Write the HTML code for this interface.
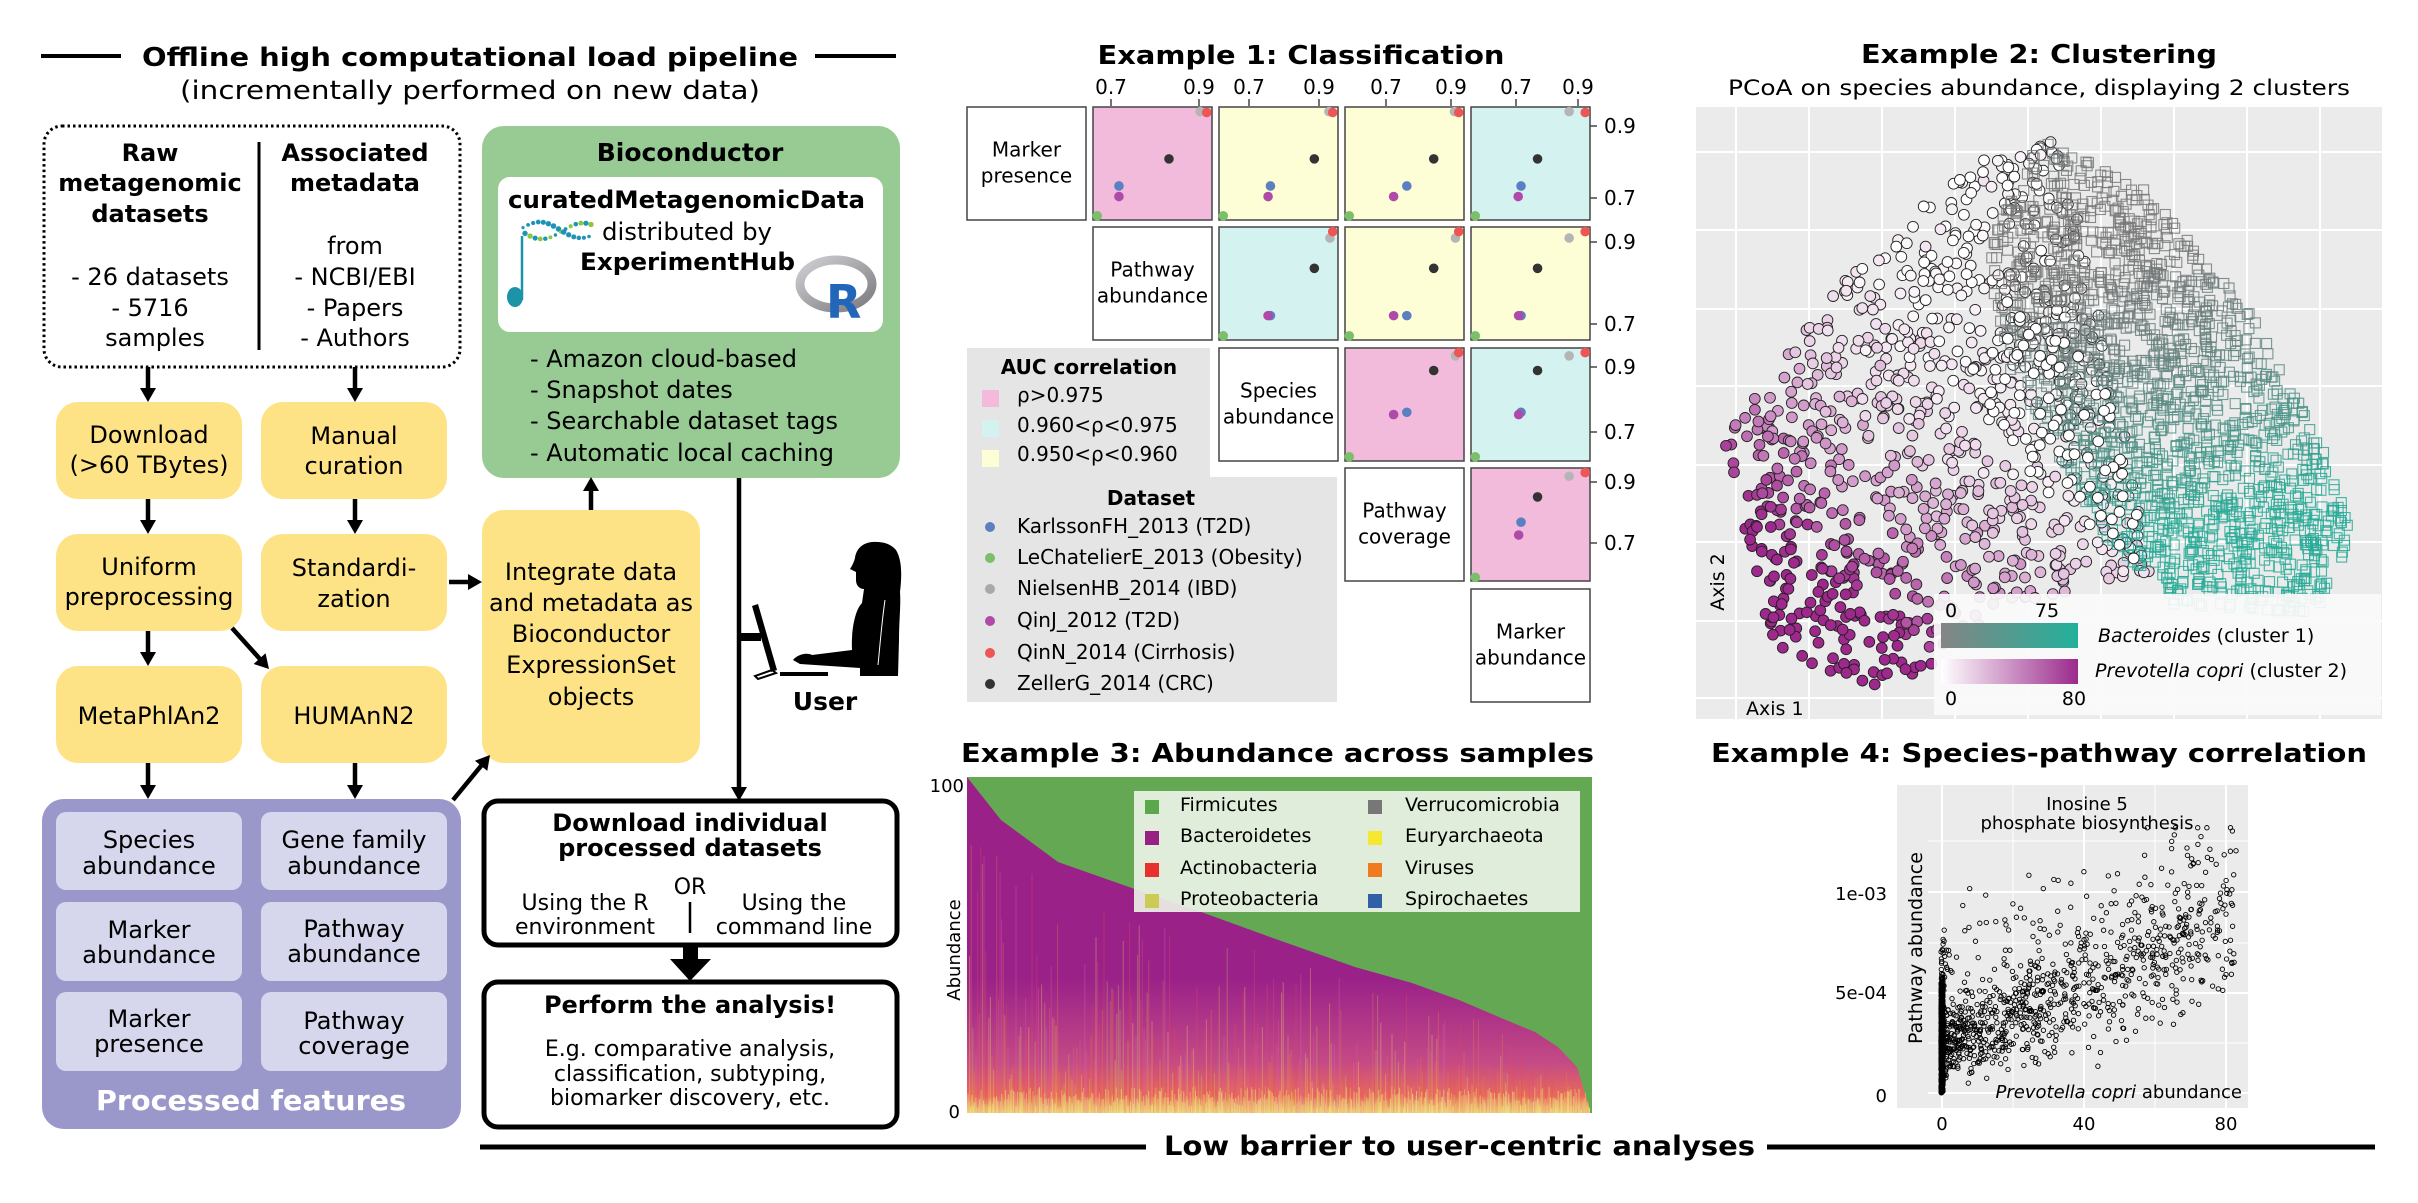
<!DOCTYPE html>
<html><head><meta charset="utf-8"><style>
html,body{margin:0;padding:0;background:#fff;width:2418px;height:1203px;overflow:hidden}
svg{display:block}
text{font-family:"DejaVu Sans","Liberation Sans",sans-serif}
</style></head><body>
<svg id="s" xmlns="http://www.w3.org/2000/svg" width="2418" height="1203" viewBox="0 0 2418 1203">
<defs>
<linearGradient id="gb" x1="0" x2="1"><stop offset="0" stop-color="#858585"/><stop offset="1" stop-color="#22b09a"/></linearGradient>
<linearGradient id="gp" x1="0" x2="1"><stop offset="0" stop-color="#ffffff"/><stop offset="1" stop-color="#9b2a8c"/></linearGradient>
<linearGradient id="gpur" x1="0" y1="0" x2="0" y2="1"><stop offset="0" stop-color="#9a2188"/><stop offset="0.6" stop-color="#9a2188"/><stop offset="0.85" stop-color="#c44a86"/><stop offset="0.95" stop-color="#e86a5a"/><stop offset="1" stop-color="#eedc80"/></linearGradient>
<linearGradient id="ring" x1="0" y1="0" x2="1" y2="1"><stop offset="0" stop-color="#d0d0d4"/><stop offset="1" stop-color="#7a7a80"/></linearGradient>
</defs>
<rect width="2418" height="1203" fill="#fff"/>

<line x1="41" y1="56" x2="121" y2="56" stroke="#000" stroke-width="4"/>
<line x1="815" y1="56" x2="896" y2="56" stroke="#000" stroke-width="4"/>
<text x="470" y="66" font-size="26" font-weight="bold" text-anchor="middle" textLength="656" lengthAdjust="spacingAndGlyphs">Offline high computational load pipeline</text>
<text x="470" y="99" font-size="26" text-anchor="middle" textLength="580" lengthAdjust="spacingAndGlyphs">(incrementally performed on new data)</text>

<rect x="44" y="126" width="416" height="241" rx="18" fill="none" stroke="#000" stroke-width="3" stroke-dasharray="2.5 3"/>
<line x1="259" y1="142" x2="259" y2="350" stroke="#000" stroke-width="3"/>
<g font-size="24" text-anchor="middle">
<text x="150" y="161" font-weight="bold">Raw</text>
<text x="150" y="191" font-weight="bold">metagenomic</text>
<text x="150" y="222" font-weight="bold">datasets</text>
<text x="150" y="285">- 26 datasets</text>
<text x="150" y="316">- 5716</text>
<text x="155" y="346">samples</text>
<text x="355" y="161" font-weight="bold">Associated</text>
<text x="355" y="191" font-weight="bold">metadata</text>
<text x="355" y="254">from</text>
<text x="355" y="285">- NCBI/EBI</text>
<text x="355" y="316">- Papers</text>
<text x="355" y="346">- Authors</text>
</g>

<g fill="#fee386">
<rect x="56" y="402" width="186" height="97" rx="22"/>
<rect x="261" y="402" width="186" height="97" rx="22"/>
<rect x="56" y="534" width="186" height="97" rx="22"/>
<rect x="261" y="534" width="186" height="97" rx="22"/>
<rect x="56" y="666" width="186" height="97" rx="22"/>
<rect x="261" y="666" width="186" height="97" rx="22"/>
<rect x="482" y="510" width="218" height="253" rx="22"/>
</g>
<g font-size="24" text-anchor="middle">
<text x="149" y="443">Download</text>
<text x="149" y="473">(&gt;60 TBytes)</text>
<text x="354" y="444">Manual</text>
<text x="354" y="474">curation</text>
<text x="149" y="575">Uniform</text>
<text x="149" y="605">preprocessing</text>
<text x="354" y="576">Standardi-</text>
<text x="354" y="607">zation</text>
<text x="149" y="724">MetaPhlAn2</text>
<text x="354" y="724">HUMAnN2</text>
<text x="591" y="580">Integrate data</text>
<text x="591" y="611">and metadata as</text>
<text x="591" y="642">Bioconductor</text>
<text x="591" y="673">ExpressionSet</text>
<text x="591" y="705">objects</text>
</g>

<rect x="482" y="126" width="418" height="352" rx="22" fill="#98ca94"/>
<text x="690" y="161" font-size="25" font-weight="bold" text-anchor="middle">Bioconductor</text>
<rect x="498" y="177" width="385" height="155" rx="12" fill="#fff"/>
<text x="508" y="208" font-size="24" font-weight="bold" textLength="357" lengthAdjust="spacingAndGlyphs">curatedMetagenomicData</text>
<text x="602" y="240" font-size="24" textLength="170" lengthAdjust="spacingAndGlyphs">distributed by</text>
<text x="580" y="270" font-size="24" font-weight="bold" textLength="215" lengthAdjust="spacingAndGlyphs">ExperimentHub</text>
<g id="bioc"></g>
<line x1="522" y1="236" x2="522" y2="300" stroke="#1d93a8" stroke-width="2.5"/>
<ellipse cx="515" cy="297" rx="8" ry="10" fill="#1d93a8"/>
<ellipse cx="836" cy="284" rx="36" ry="24" fill="none" stroke="url(#ring)" stroke-width="9"/>
<text x="826" y="318" font-size="46" font-weight="bold" fill="#2166b9">R</text>
<g font-size="24">
<text x="530" y="367">- Amazon cloud-based</text>
<text x="530" y="398">- Snapshot dates</text>
<text x="530" y="429">- Searchable dataset tags</text>
<text x="530" y="461">- Automatic local caching</text>
</g>

<rect x="42" y="799" width="419" height="330" rx="22" fill="#9a98cb"/>
<g fill="#d6d6ed">
<rect x="56" y="812" width="186" height="78" rx="10"/>
<rect x="261" y="812" width="186" height="78" rx="10"/>
<rect x="56" y="902" width="186" height="79" rx="10"/>
<rect x="261" y="902" width="186" height="79" rx="10"/>
<rect x="56" y="992" width="186" height="79" rx="10"/>
<rect x="261" y="992" width="186" height="79" rx="10"/>
</g>
<g font-size="24" text-anchor="middle">
<text x="149" y="848">Species</text>
<text x="149" y="874">abundance</text>
<text x="354" y="848">Gene family</text>
<text x="354" y="874">abundance</text>
<text x="149" y="938">Marker</text>
<text x="149" y="963">abundance</text>
<text x="354" y="937">Pathway</text>
<text x="354" y="962">abundance</text>
<text x="149" y="1027">Marker</text>
<text x="149" y="1052">presence</text>
<text x="354" y="1029">Pathway</text>
<text x="354" y="1054">coverage</text>
</g>
<text x="251" y="1110" font-size="28" font-weight="bold" fill="#fff" text-anchor="middle" textLength="310" lengthAdjust="spacingAndGlyphs">Processed features</text>

<rect x="484" y="801" width="413" height="144" rx="14" fill="#fff" stroke="#000" stroke-width="5"/>
<g text-anchor="middle">
<text x="690" y="831" font-size="24" font-weight="bold">Download individual</text>
<text x="690" y="856" font-size="24" font-weight="bold">processed datasets</text>
<text x="690" y="894" font-size="22">OR</text>
<text x="585" y="910" font-size="22">Using the R</text>
<text x="585" y="934" font-size="22">environment</text>
<text x="794" y="910" font-size="22">Using the</text>
<text x="794" y="934" font-size="22">command line</text>
</g>
<line x1="690" y1="902" x2="690" y2="933" stroke="#000" stroke-width="2.5"/>
<rect x="683" y="945" width="15" height="17" fill="#000"/>
<polygon points="670,959 711,959 690,981" fill="#000"/>
<rect x="484" y="982" width="413" height="145" rx="14" fill="#fff" stroke="#000" stroke-width="5"/>
<g text-anchor="middle">
<text x="690" y="1013" font-size="24" font-weight="bold">Perform the analysis!</text>
<text x="690" y="1056" font-size="22">E.g. comparative analysis,</text>
<text x="690" y="1081" font-size="22">classification, subtyping,</text>
<text x="690" y="1105" font-size="22">biomarker discovery, etc.</text>
</g>

<g fill="#000">
<path d="M877,542 C862,541 856,550 855,558 C854,562 852,566 850,569 L856,572 L856,580 C856,586 860,589 864,589 L862,603 C855,610 851,630 852,650 L812,655 C806,652 797,655 793,660 L800,664 L860,668 L860,676 L898,676 L899,640 C899,620 901,605 900,592 C902,575 902,560 896,550 C892,545 885,542 877,542 Z"/>
<path d="M752,606 L758,604 L777,670 L771,672 Z"/>
<path d="M772,670 L755,676 L758,679 L776,673 Z" fill="none" stroke="#000" stroke-width="2"/>
<rect x="780" y="672" width="48" height="4"/>
<rect x="739" y="633" width="22" height="8"/>
</g>
<path d="M885,600 C882,620 880,645 878,665" stroke="#fff" stroke-width="1" fill="none"/>
<text x="825" y="710" font-size="25" font-weight="bold" text-anchor="middle">User</text>

<g id="arrows"></g>

<line x1="480" y1="1147" x2="1146" y2="1147" stroke="#000" stroke-width="5"/>
<line x1="1767" y1="1147" x2="2375" y2="1147" stroke="#000" stroke-width="5"/>
<text x="1164" y="1155" font-size="27" font-weight="bold" textLength="591" lengthAdjust="spacingAndGlyphs">Low barrier to user-centric analyses</text>

<text x="1301" y="64" font-size="26" font-weight="bold" text-anchor="middle" textLength="407" lengthAdjust="spacingAndGlyphs">Example 1: Classification</text>
<path d="M967,348 H1210 V477 H1337 V702 H967 Z" fill="#e5e5e5"/>
<g id="ex1"></g>
<text x="1089" y="374" font-size="20" font-weight="bold" text-anchor="middle">AUC correlation</text>
<rect x="982" y="390" width="17" height="17" fill="#f2bbdc"/>
<rect x="982" y="420" width="17" height="17" fill="#d3f2f0"/>
<rect x="982" y="450" width="17" height="17" fill="#fdfdd6"/>
<g font-size="20">
<text x="1017" y="402">ρ&gt;0.975</text>
<text x="1017" y="432">0.960&lt;ρ&lt;0.975</text>
<text x="1017" y="461">0.950&lt;ρ&lt;0.960</text>
</g>
<text x="1151" y="505" font-size="20" font-weight="bold" text-anchor="middle">Dataset</text>
<g font-size="20">
<circle cx="990" cy="527" r="5" fill="#5b7fc0"/><text x="1017" y="533">KarlssonFH_2013 (T2D)</text>
<circle cx="990" cy="558" r="5" fill="#7bbf6a"/><text x="1017" y="564">LeChatelierE_2013 (Obesity)</text>
<circle cx="990" cy="589" r="5" fill="#a9a9a9"/><text x="1017" y="595">NielsenHB_2014 (IBD)</text>
<circle cx="990" cy="621" r="5" fill="#b04aa8"/><text x="1017" y="627">QinJ_2012 (T2D)</text>
<circle cx="990" cy="653" r="5" fill="#ee5555"/><text x="1017" y="659">QinN_2014 (Cirrhosis)</text>
<circle cx="990" cy="684" r="5" fill="#333"/><text x="1017" y="690">ZellerG_2014 (CRC)</text>
</g>

<text x="2039" y="63" font-size="26" font-weight="bold" text-anchor="middle" textLength="356" lengthAdjust="spacingAndGlyphs">Example 2: Clustering</text>
<text x="2039" y="95" font-size="21" text-anchor="middle" textLength="622" lengthAdjust="spacingAndGlyphs">PCoA on species abundance, displaying 2 clusters</text>
<rect x="1696" y="107" width="686" height="612" fill="#ebebeb"/>
<g id="ex2grid" stroke="#fff" stroke-width="2"></g>
<g id="ex2"></g>
<rect x="1934" y="594" width="447" height="121" fill="#fafafa" opacity="0.92"/>
<g font-size="19">
<text x="1945" y="617">0</text><text x="2047" y="617" text-anchor="middle">75</text>
<text x="1945" y="705">0</text><text x="2074" y="705" text-anchor="middle">80</text>
<text x="2098" y="642"><tspan font-style="italic">Bacteroides</tspan> (cluster 1)</text>
<text x="2095" y="677"><tspan font-style="italic">Prevotella copri</tspan> (cluster 2)</text>
</g>
<rect x="1941" y="623" width="137" height="25" fill="url(#gb)"/>
<rect x="1941" y="659" width="137" height="25" fill="url(#gp)"/>
<text transform="translate(1724,582) rotate(-90)" font-size="19" text-anchor="middle">Axis 2</text>
<text x="1746" y="715" font-size="19">Axis 1</text>

<text x="961" y="762" font-size="26" font-weight="bold" textLength="633" lengthAdjust="spacingAndGlyphs">Example 3: Abundance across samples</text>
<rect x="967" y="777" width="625" height="336" fill="#65a853"/>
<path id="purp" d="M967,777 L1001,820 L1058,862 L1129,887 L1204,913 L1270,937 L1355,967 L1412,983 L1459,1000 L1506,1020 L1535,1032 L1558,1047 L1577,1067 L1590,1110 L1590,1113 L967,1113 Z" fill="url(#gpur)"/>
<g id="ex3"></g>
<rect x="1134" y="791" width="446" height="121" fill="#eef4ea" opacity="0.9"/>
<g font-size="19">
<rect x="1145" y="800" width="14" height="14" fill="#5aa84a"/><text x="1180" y="811">Firmicutes</text>
<rect x="1145" y="831" width="14" height="14" fill="#972083"/><text x="1180" y="842">Bacteroidetes</text>
<rect x="1145" y="863" width="14" height="14" fill="#e83030"/><text x="1180" y="874">Actinobacteria</text>
<rect x="1145" y="894" width="14" height="14" fill="#cccc55"/><text x="1180" y="905">Proteobacteria</text>
<rect x="1368" y="800" width="14" height="14" fill="#777"/><text x="1405" y="811">Verrucomicrobia</text>
<rect x="1368" y="831" width="14" height="14" fill="#f5e830"/><text x="1405" y="842">Euryarchaeota</text>
<rect x="1368" y="863" width="14" height="14" fill="#f07a20"/><text x="1405" y="874">Viruses</text>
<rect x="1368" y="894" width="14" height="14" fill="#3060a8"/><text x="1405" y="905">Spirochaetes</text>
</g>
<text x="964" y="792" font-size="18" text-anchor="end">100</text>
<text x="960" y="1118" font-size="18" text-anchor="end">0</text>
<text transform="translate(960,950) rotate(-90)" font-size="18" text-anchor="middle">Abundance</text>

<text x="1711" y="762" font-size="26" font-weight="bold" textLength="656" lengthAdjust="spacingAndGlyphs">Example 4: Species-pathway correlation</text>
<rect x="1897" y="785" width="351" height="323" fill="#ebebeb"/>
<g stroke="#fff">
<line x1="1928" y1="1093" x2="2248" y2="1093" stroke-width="2"/>
<line x1="1928" y1="993" x2="2248" y2="993" stroke-width="2"/>
<line x1="1928" y1="892" x2="2248" y2="892" stroke-width="2"/>
<line x1="1928" y1="1043" x2="2248" y2="1043" stroke-width="1"/>
<line x1="1928" y1="943" x2="2248" y2="943" stroke-width="1"/>
<line x1="1928" y1="841" x2="2248" y2="841" stroke-width="1"/>
<line x1="1942" y1="785" x2="1942" y2="1108" stroke-width="2"/>
<line x1="2084" y1="785" x2="2084" y2="1108" stroke-width="2"/>
<line x1="2226" y1="785" x2="2226" y2="1108" stroke-width="2"/>
<line x1="2013" y1="785" x2="2013" y2="1108" stroke-width="1"/>
<line x1="2155" y1="785" x2="2155" y2="1108" stroke-width="1"/>
</g>
<g id="ex4" fill="none" stroke="#000" stroke-width="0.9"></g>
<text x="2087" y="810" font-size="18" text-anchor="middle">Inosine 5</text>
<text x="2087" y="829" font-size="18" text-anchor="middle">phosphate biosynthesis</text>
<text x="2242" y="1098" font-size="18" text-anchor="end"><tspan font-style="italic">Prevotella copri</tspan> abundance</text>
<text transform="translate(1922,948) rotate(-90)" font-size="19" text-anchor="middle">Pathway abundance</text>
<g font-size="18">
<text x="1887" y="900" text-anchor="end">1e-03</text>
<text x="1887" y="999" text-anchor="end">5e-04</text>
<text x="1887" y="1102" text-anchor="end">0</text>
<text x="1942" y="1130" text-anchor="middle">0</text>
<text x="2084" y="1130" text-anchor="middle">40</text>
<text x="2226" y="1130" text-anchor="middle">80</text>
</g>
</svg>
<script>
(function(){
var NS="http://www.w3.org/2000/svg";
function el(p,n,a){var e=document.createElementNS(NS,n);for(var k in a)e.setAttribute(k,a[k]);p.appendChild(e);return e;}
var seed=12345;function rnd(){seed=(seed*1103515245+12345)&0x7fffffff;return seed/0x7fffffff;}
function gauss(){return (rnd()+rnd()+rnd()+rnd()-2)/0.58;}
var A=document.getElementById("arrows");
function arrow(x1,y1,x2,y2){var dx=x2-x1,dy=y2-y1,L=Math.sqrt(dx*dx+dy*dy),ux=dx/L,uy=dy/L,h=14,w=8;
var bx=x2-ux*h,by=y2-uy*h;
el(A,"line",{x1:x1,y1:y1,x2:bx+ux,y2:by+uy,stroke:"#000","stroke-width":4.5});
el(A,"polygon",{points:x2+","+y2+" "+(bx-uy*w)+","+(by+ux*w)+" "+(bx+uy*w)+","+(by-ux*w),fill:"#000"});}
arrow(148,367,148,402);arrow(355,367,355,402);arrow(148,499,148,534);arrow(355,499,355,534);
arrow(148,631,148,666);arrow(232,628,269,669);arrow(148,763,148,799);arrow(355,763,355,799);
arrow(449,582,482,582);arrow(453,800,490,755);arrow(591,510,591,477);arrow(739,478,739,801);
var B=document.getElementById("bioc");
for(var i=0;i<14;i++){var t=i/13,x=523+t*66;
el(B,"circle",{cx:x,cy:230-8*Math.sin(t*Math.PI*1.6+0.3),r:1.6+1.2*Math.abs(Math.sin(t*3)),fill:"#1d93b8"});
el(B,"circle",{cx:x+2,cy:231+8*Math.sin(t*Math.PI*1.6+0.3),r:1.5+1.2*Math.abs(Math.cos(t*3)),fill:i%2?"#8dc63f":"#1d93b8"});}
var E=document.getElementById("ex1");
var cx=[967,1093,1219,1345,1471],cy=[107,227,348,468,589],cw=119,ch=113;
var col={p:"#f2bbdc",c:"#d3f2f0",y:"#fdfdd6"};
var cells=[[0,1,"p"],[0,2,"y"],[0,3,"y"],[0,4,"c"],[1,2,"c"],[1,3,"y"],[1,4,"y"],[2,3,"p"],[2,4,"c"],[3,4,"p"]];
var pts={"0,1":[325,233,[552,243],[566,245],[486,346],[380,405],[380,428],[334,470]],
"0,2":[592,233,[825,243],[833,245],[794,346],[701,405],[696,428],[601,470]],
"0,3":[859,233,[1091,243],[1100,245],[1047,346],[990,405],[962,428],[868,470]],
"0,4":[1126,233,[1334,243],[1368,245],[1267,346],[1232,405],[1226,428],[1135,470]],
"1,2":[592,495,[827,519],[833,505],[794,585],[701,688],[696,688],[601,732]],
"1,3":[859,495,[1093,519],[1100,505],[1047,585],[990,688],[962,688],[868,732]],
"1,4":[1126,495,[1334,519],[1368,505],[1267,585],[1232,688],[1227,688],[1135,732]],
"2,3":[859,758,[1093,775],[1100,768],[1047,807],[990,898],[962,903],[868,995]],
"2,4":[1126,758,[1334,775],[1368,768],[1267,807],[1232,898],[1227,903],[1135,995]],
"3,4":[1126,1020,[1334,1038],[1368,1030],[1267,1083],[1232,1138],[1227,1166],[1135,1258]]};
var dc=["#b5b5b5","#ee5555","#333333","#5b7fc0","#b04aa8","#7bbf6a"];
cells.forEach(function(c){var r=c[0],k=c[1];var x=cx[k],y=cy[r];
el(E,"rect",{x:x,y:y,width:cw,height:ch,fill:col[c[2]],stroke:"#444","stroke-width":1.5});
var P=pts[r+","+k];for(var j=0;j<6;j++){var q=P[2+j];
var px=x+(q[0]-P[0])/2.119,py=y+(q[1]-P[1])/2.178;
px=Math.min(Math.max(px,x+3),x+cw-3);py=Math.min(Math.max(py,y+3),y+ch-3);
el(E,"circle",{cx:px,cy:py,r:4.8,fill:dc[j]});}});
var labs=[["Marker","presence"],["Pathway","abundance"],["Species","abundance"],["Pathway","coverage"],["Marker","abundance"]];
for(var i=0;i<5;i++){var x=cx[i],y=cy[i];
el(E,"rect",{x:x,y:y,width:cw,height:ch,fill:"#fff",stroke:"#444","stroke-width":1.5});
var m=y+ch/2;var t1=el(E,"text",{x:x+cw/2,y:m-7,"font-size":20,"text-anchor":"middle"});t1.textContent=labs[i][0];
var t2=el(E,"text",{x:x+cw/2,y:m+19,"font-size":20,"text-anchor":"middle"});t2.textContent=labs[i][1];}
var tx=[1111,1199,1249,1319,1386,1451,1516,1578];
tx.forEach(function(v,i){el(E,"line",{x1:v,y1:99,x2:v,y2:106,stroke:"#444","stroke-width":1.5});
var t=el(E,"text",{x:v,y:94,"font-size":20,"text-anchor":"middle"});t.textContent=i%2?"0.9":"0.7";});
var ty=[[126,"0.9"],[198,"0.7"],[242,"0.9"],[324,"0.7"],[367,"0.9"],[432,"0.7"],[482,"0.9"],[543,"0.7"]];
ty.forEach(function(v){el(E,"line",{x1:1590,y1:v[0],x2:1597,y2:v[0],stroke:"#444","stroke-width":1.5});
var t=el(E,"text",{x:1604,y:v[0]+7,"font-size":20});t.textContent=v[1];});
var G=document.getElementById("ex2grid");
[1736,1809,1882,1955,2028,2101,2174,2247,2320].forEach(function(v){el(G,"line",{x1:v,y1:107,x2:v,y2:719});});
[152,230,309,386,465,542,621,698].forEach(function(v){el(G,"line",{x1:1696,y1:v,x2:2382,y2:v});});
var S=document.getElementById("ex2");
function Z(p){return [1680+p[0]/2.125,p[1]/2.148];}
function inPoly(x,y,P){var c=false;for(var i=0,j=P.length-1;i<P.length;j=i++){var a=P[i],b=P[j];
if(((a[1]>y)!=(b[1]>y))&&(x<(b[0]-a[0])*(y-a[1])/(b[1]-a[1])+a[0]))c=!c;}return c;}
var circP=[[600,360],[800,290],[900,700],[1000,1230],[700,1300],[450,1490],[200,1400],[90,940],[300,650]].map(Z);
var sqP=[[760,300],[980,400],[1200,650],[1360,950],[1430,1150],[1350,1320],[1050,1300],[900,1150],[700,800],[650,550]].map(Z);
function samp(P,n){var xs=P.map(function(p){return p[0]}),ys=P.map(function(p){return p[1]});
var x0=Math.min.apply(null,xs),x1=Math.max.apply(null,xs),y0=Math.min.apply(null,ys),y1=Math.max.apply(null,ys);
var out=[];while(out.length<n){var x=x0+rnd()*(x1-x0),y=y0+rnd()*(y1-y0);if(inPoly(x,y,P))out.push([x,y]);}return out;}
function mix(a,b,t){t=Math.max(0,Math.min(1,t));return "rgb("+a.map(function(v,i){return Math.round(v+(b[i]-v)*t)}).join(",")+")";}
var circ=samp(circP,950);
circ.forEach(function(p){var t=((2030-p[0])*0.75+(p[1]-170)*0.9)/560;t=t*t*t*1.3+0.05*gauss();
el(S,"circle",{cx:p[0].toFixed(1),cy:p[1].toFixed(1),r:5.4,fill:mix([255,255,255],[158,40,140],t),stroke:"#222","stroke-width":0.9});});
var sq=samp(sqP,1600);
sq.forEach(function(p){var t=((p[0]-2000)*0.3+(p[1]-250)*1.0)/330;
el(S,"rect",{x:(p[0]-5).toFixed(1),y:(p[1]-5).toFixed(1),width:10,height:10,fill:"none",stroke:mix([120,120,120],[40,170,150],t*t),"stroke-width":1.1,opacity:0.85});});
samp([[700,600],[900,800],[1000,1230],[800,1100],[650,900]].map(Z),80).forEach(function(p){
el(S,"circle",{cx:p[0].toFixed(1),cy:p[1].toFixed(1),r:5.4,fill:"#fff",stroke:"#222","stroke-width":0.9});});
var T=document.getElementById("ex3");
var curve=[[967,777],[1001,820],[1058,862],[1129,887],[1204,913],[1270,937],[1355,967],[1412,983],[1459,1000],[1506,1020],[1535,1032],[1558,1047],[1577,1067],[1590,1110]];
function cy3(x){for(var i=1;i<curve.length;i++){if(x<=curve[i][0]){var a=curve[i-1],b=curve[i];return a[1]+(b[1]-a[1])*(x-a[0])/(b[0]-a[0]);}}return 1110;}
var sc=["#e84a6a","#f0d060","#e65aa0","#f4e070","#ee4444","#d86ab0","#f08040","#c8c860"];
for(var x=968;x<1590;x+=1.6){var top=cy3(x);var h=1113-top;var f=0.1+0.5*rnd()*rnd();if(rnd()<0.3)f=0.3+0.6*rnd();
el(T,"line",{x1:x,y1:1113,x2:x,y2:1113-h*f,stroke:sc[Math.floor(rnd()*sc.length)],"stroke-width":1,opacity:0.35});}
for(var x=968;x<1590;x+=1.3){var h2=4+rnd()*22;el(T,"line",{x1:x,y1:1113,x2:x,y2:1113-h2,stroke:rnd()<0.5?"#f2e480":"#f0c070","stroke-width":1,opacity:0.6});}
var F=document.getElementById("ex4");
function X4(v){return 1942+v*3.55;}function Y4(v){return 1093-v*201000;}
for(var i=0;i<700;i++){var y=Math.abs(2.6e-4+gauss()*1.6e-4);if(y>7.7e-4)y=rnd()*7.7e-4;
el(F,"circle",{cx:(X4(0)+(rnd()-0.5)*2).toFixed(1),cy:Y4(y).toFixed(1),r:2.2});}
for(var i=0;i<1000;i++){var x=83*Math.pow(rnd(),1.6);x=Math.max(0.3,x);
var y=2.5e-4+x*7.5e-6+gauss()*(0.9e-4+x*1.6e-6);if(rnd()<0.08)y+=2.5e-4+rnd()*3e-4;if(y<1e-5)y=1e-5+rnd()*5e-5;if(y>1.32e-3)y=1.32e-3;
el(F,"circle",{cx:X4(x).toFixed(1),cy:Y4(y).toFixed(1),r:2.2});}
})();
</script>
</body></html>
